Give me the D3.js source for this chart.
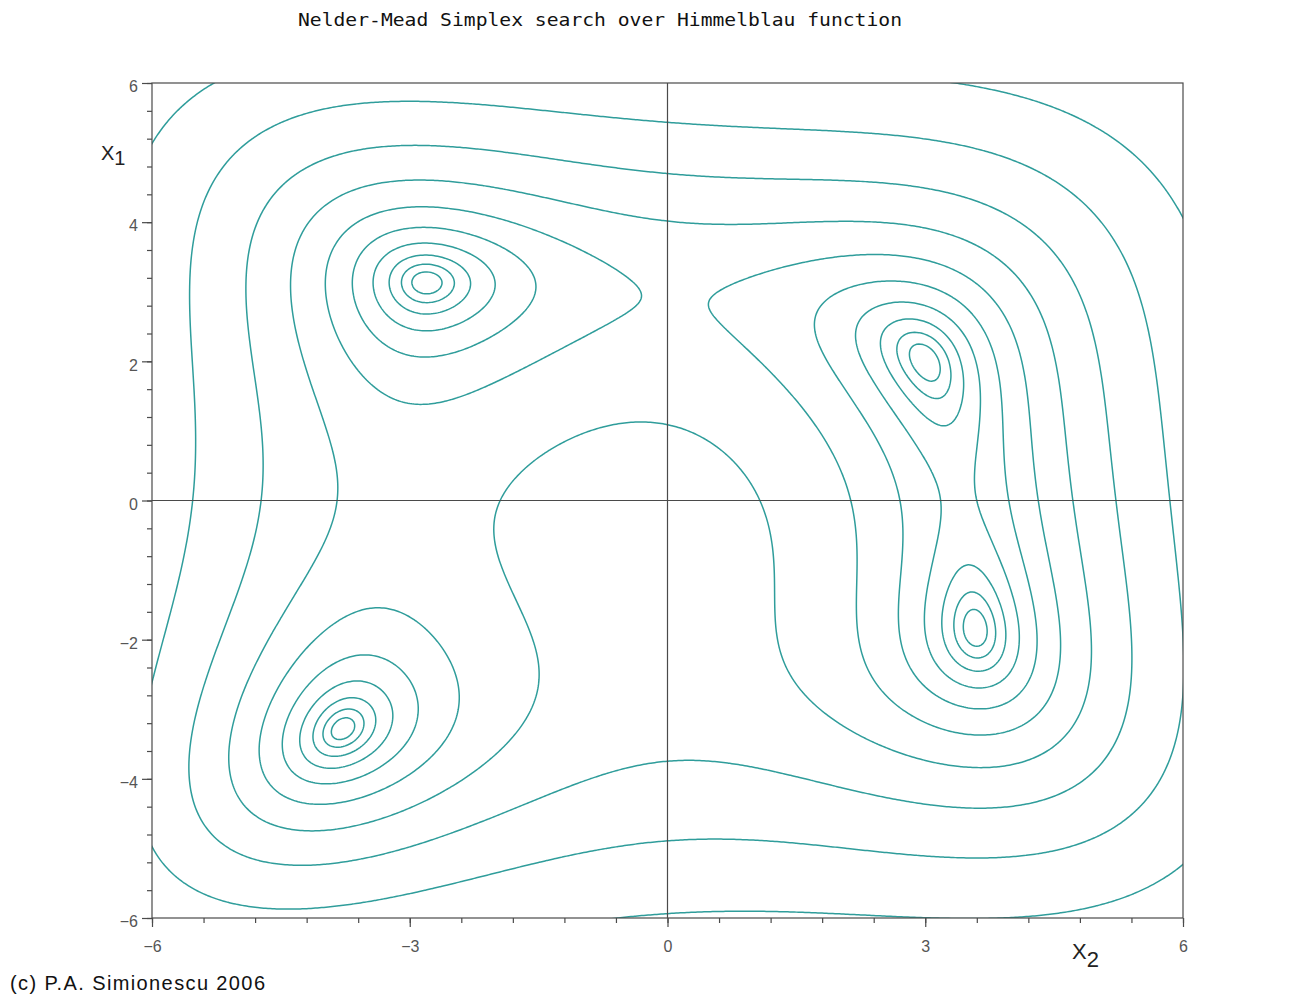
<!DOCTYPE html>
<html lang="en">
<head>
<meta charset="UTF-8" />
<title>Nelder-Mead Simplex search over Himmelblau function</title>
<script src="https://cdn.jsdelivr.net/npm/d3@7"></script>
<style>
  body { margin: 0; background: #fff; }
</style>
</head>
<body>
<svg id="vis" width="1316" height="996"></svg>
<script>
// contour levels of f (10 levels, log-spaced)
const levels = [1.0, 3.05, 7.1, 15.4, 32, 65.3, 132, 267, 539, 1085];
const xMajorTicks = [-6, -3, 0, 3, 6];
const yMajorTicks = [-6, -4, -2, 0, 2, 4, 6];
const domainX = [-6, 6];
const domainY = [-6, 6];

// Himmelblau function, sampled on a grid a bit wider than the plot
function himmelblau(x, y) {
  return (x * x + y - 11) ** 2 + (x + y * y - 7) ** 2;
}
const step = 0.025, g0 = -6.2;
const n = Math.round((6.2 - g0) / step) + 1;
const values = new Float64Array(n * n);
for (let j = 0; j < n; j++) {
  for (let i = 0; i < n; i++) {
    values[j * n + i] = himmelblau(g0 + i * step, g0 + j * step);
  }
}

const svg = d3.select("#vis");
const pLeft = 152, pRight = 1183, pTop = 83, pBottom = 918;

const x = d3.scaleLinear().domain(domainX).range([pLeft, pRight]);
const y = d3.scaleLinear().domain(domainY).range([pBottom, pTop]);

// grid coords -> data coords (d3.contours puts sample i at i + 0.5)
const grid = d3.scaleLinear().domain([0.5, n - 0.5]).range([g0, g0 + (n - 1) * step]);
const path = d3.geoPath(d3.geoTransform({
  point: function (px, py) { this.stream.point(x(grid(px)), y(grid(py))); }
}));

svg.append("rect").attr("width", 1316).attr("height", 996).attr("fill", "#fff");

svg.append("clipPath").attr("id", "clip")
  .append("rect")
  .attr("x", pLeft).attr("y", pTop)
  .attr("width", pRight - pLeft).attr("height", pBottom - pTop);

const contours = d3.contours().size([n, n]).thresholds(levels)(values);

svg.append("g")
  .attr("clip-path", "url(#clip)")
  .selectAll("path")
  .data(contours)
  .join("path")
  .attr("d", path)
  .attr("fill", "none")
  .attr("stroke", "#2f9d9b")
  .attr("stroke-width", 1.5)
  .attr("stroke-linejoin", "round");

// frame and axes through the origin
const lineColor = "#4a4a4a";
svg.append("rect")
  .attr("x", pLeft).attr("y", pTop)
  .attr("width", pRight - pLeft).attr("height", pBottom - pTop)
  .attr("fill", "none").attr("stroke", lineColor).attr("stroke-width", 1.2);
svg.append("line")
  .attr("x1", x(0)).attr("x2", x(0)).attr("y1", pTop).attr("y2", pBottom)
  .attr("stroke", lineColor).attr("stroke-width", 1.2);
svg.append("line")
  .attr("x1", pLeft).attr("x2", pRight).attr("y1", y(0)).attr("y2", y(0))
  .attr("stroke", lineColor).attr("stroke-width", 1.2);

function styleAxis(g) {
  g.select(".domain").remove();
  g.selectAll("line").attr("stroke", lineColor).attr("stroke-width", 1.2);
  g.selectAll("text")
    .attr("fill", "#555")
    .attr("font-family", "Liberation Sans, Arial, sans-serif")
    .attr("font-size", 16);
}

// minor ticks
svg.append("g")
  .attr("transform", `translate(${pLeft},0)`)
  .call(d3.axisLeft(y).tickValues(d3.range(-6, 6.001, 0.4)).tickSize(5).tickFormat(""))
  .call(styleAxis);
svg.append("g")
  .attr("transform", `translate(0,${pBottom})`)
  .call(d3.axisBottom(x).tickValues(d3.range(-6, 6.001, 0.6)).tickSize(5).tickFormat(""))
  .call(styleAxis);

// major ticks with labels
svg.append("g")
  .attr("transform", `translate(${pLeft},0)`)
  .call(d3.axisLeft(y).tickValues(yMajorTicks).tickSize(10).tickPadding(4))
  .call(styleAxis)
  .selectAll("text").attr("dy", "0.55em");
svg.append("g")
  .attr("transform", `translate(0,${pBottom})`)
  .call(d3.axisBottom(x).tickValues(xMajorTicks).tickSize(9).tickPadding(14))
  .call(styleAxis);

// title
svg.append("text")
  .attr("x", 600).attr("y", 26)
  .attr("text-anchor", "middle")
  .attr("font-family", "DejaVu Sans Mono, monospace")
  .attr("font-size", 18)
  .attr("textLength", 604)
  .attr("lengthAdjust", "spacingAndGlyphs")
  .attr("fill", "#111")
  .text("Nelder-Mead Simplex search over Himmelblau function");

// axis names
const x1 = svg.append("text")
  .attr("x", 101).attr("y", 160)
  .attr("font-family", "Liberation Sans, Arial, sans-serif")
  .attr("font-size", 20).attr("fill", "#222");
x1.append("tspan").text("X");
x1.append("tspan").attr("dy", 5).text("1");

const x2 = svg.append("text")
  .attr("x", 1072).attr("y", 959)
  .attr("font-family", "Liberation Sans, Arial, sans-serif")
  .attr("font-size", 22).attr("fill", "#222");
x2.append("tspan").text("X");
x2.append("tspan").attr("dy", 8).text("2");

// credit line
svg.append("text")
  .attr("x", 10).attr("y", 990)
  .attr("font-family", "Liberation Sans, Arial, sans-serif")
  .attr("font-size", 20)
  .attr("textLength", 255)
  .attr("fill", "#111")
  .text("(c) P.A. Simionescu 2006");
</script>
</body>
</html>
